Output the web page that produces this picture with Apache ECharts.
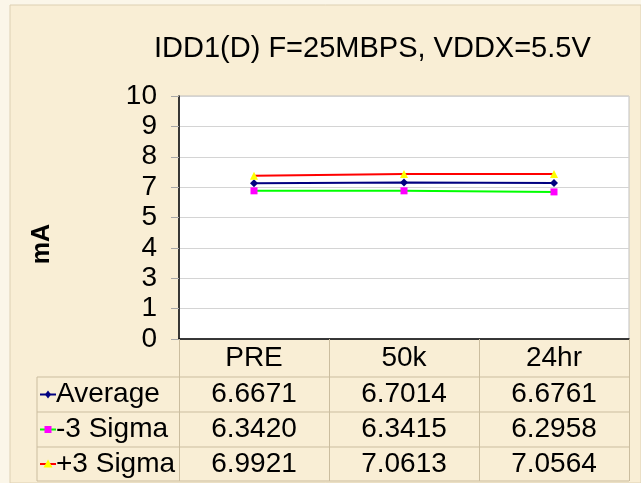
<!DOCTYPE html>
<html>
<head>
<meta charset="utf-8">
<script src="https://cdn.jsdelivr.net/npm/echarts@6/dist/echarts.min.js"></script>
<style>
  html, body { margin: 0; padding: 0; background: #fbf6e9; }
  #chart { width: 641px; height: 483px; }
</style>
</head>
<body>
<div id="chart"></div>
<script>
const categories = ['PRE', '50k', '24hr']
const seriesNames = ['Average', '-3 Sigma', '+3 Sigma']
const averageValues = [6.6671, 6.7014, 6.6761]
const minusSigmaValues = [6.342, 6.3415, 6.2958]
const plusSigmaValues = [6.9921, 7.0613, 7.0564]
// excel picked 0..10.4 with 1.3 steps, labels shown rounded
const yMin = 0
const yMax = 10.4
const yStep = 1.3

const font = 'Liberation Sans, Arial, sans-serif'
const tableLine = '#cbbd9f'

const chart = echarts.init(document.getElementById('chart'))

const option = {
  backgroundColor: '#fbf6e9',
  animation: false,
  title: {
    text: 'IDD1(D) F=25MBPS, VDDX=5.5V',
    left: 149,
    top: 29,
    textStyle: { fontFamily: font, fontSize: 29, fontWeight: 'normal', color: '#000' }
  },
  grid: {
    left: 179,
    right: 12,
    top: 96,
    bottom: 144,
    show: true,
    backgroundColor: '#fff',
    borderColor: '#c0c0c0',
    borderWidth: 1
  },
  xAxis: {
    type: 'category',
    data: categories,
    boundaryGap: true,
    axisLine: { lineStyle: { color: '#000', width: 1.5 } },
    axisTick: { show: true, interval: 0, length: 142, lineStyle: { color: tableLine } },
    axisLabel: { interval: 0, margin: 5, fontFamily: font, fontSize: 28, color: '#000' }
  },
  yAxis: {
    type: 'value',
    min: yMin,
    max: yMax,
    interval: yStep,
    axisLine: { show: true, lineStyle: { color: '#000', width: 1.5 } },
    axisTick: { show: true, length: 8, lineStyle: { color: '#a8a8a8' } },
    axisLabel: {
      margin: 22,
      fontFamily: font,
      fontSize: 28,
      color: '#000',
      formatter: (v) => String(Math.round(v))
    },
    splitLine: { lineStyle: { color: '#d4d4d4' } }
  },
  series: [
    {
      name: seriesNames[0],
      type: 'line',
      data: averageValues,
      symbol: 'diamond',
      symbolSize: 8,
      itemStyle: { color: '#000080' },
      lineStyle: { color: '#000080', width: 2 }
    },
    {
      name: seriesNames[1],
      type: 'line',
      data: minusSigmaValues,
      symbol: 'rect',
      symbolSize: 7,
      itemStyle: { color: '#ff00ff' },
      lineStyle: { color: '#00ff00', width: 2 }
    },
    {
      name: seriesNames[2],
      type: 'line',
      data: plusSigmaValues,
      symbol: 'triangle',
      symbolSize: 8,
      itemStyle: { color: '#ffff00' },
      lineStyle: { color: '#ff0000', width: 2 }
    }
  ]
}

chart.setOption(option)

// data table under the plot
const rowValues = [averageValues, minusSigmaValues, plusSigmaValues]
const keyColors = [
  { line: '#000080', mark: '#000080', shape: 'diamond' },
  { line: '#00ff00', mark: '#ff00ff', shape: 'rect' },
  { line: '#ff0000', mark: '#ffff00', shape: 'triangle' }
]
const rowLines = [377, 412, 447, 481]
const tableLeft = 37
const tableRight = 629

const graphics = [
  {
    type: 'rect',
    z: -10,
    shape: { x: 10, y: 5, width: 631, height: 478 },
    style: { fill: '#f9eed5', stroke: '#ddd0b3', lineWidth: 1 }
  },
  {
    type: 'text',
    x: 42,
    y: 244,
    rotation: Math.PI / 2,
    style: { text: 'mA', font: 'bold 25px ' + font, fill: '#000', textAlign: 'center', textVerticalAlign: 'middle' }
  }
]

rowLines.forEach((y) => {
  graphics.push({
    type: 'line',
    shape: { x1: tableLeft, y1: y, x2: tableRight, y2: y },
    style: { stroke: tableLine, lineWidth: 1 }
  })
})
graphics.push({
  type: 'line',
  shape: { x1: tableLeft, y1: rowLines[0], x2: tableLeft, y2: rowLines[3] },
  style: { stroke: tableLine, lineWidth: 1 }
})

const markShape = (shape, cx, cy, color) => {
  if (shape === 'rect') {
    return { type: 'rect', shape: { x: cx - 3.5, y: cy - 3.5, width: 7, height: 7 }, style: { fill: color } }
  }
  if (shape === 'triangle') {
    return { type: 'polygon', shape: { points: [[cx, cy - 4.5], [cx + 4.5, cy + 3.5], [cx - 4.5, cy + 3.5]] }, style: { fill: color } }
  }
  return { type: 'polygon', shape: { points: [[cx, cy - 4], [cx + 3, cy], [cx, cy + 4], [cx - 3, cy]] }, style: { fill: color } }
}

seriesNames.forEach((name, r) => {
  const cy = (rowLines[r] + rowLines[r + 1]) / 2
  graphics.push({
    type: 'line',
    shape: { x1: 40, y1: cy, x2: 56, y2: cy },
    style: { stroke: keyColors[r].line, lineWidth: 2 }
  })
  graphics.push(markShape(keyColors[r].shape, 48, cy, keyColors[r].mark))
  graphics.push({
    type: 'text',
    x: 56,
    y: cy,
    style: { text: name, font: '28px ' + font, fill: '#000', textAlign: 'left', textVerticalAlign: 'middle' }
  })
  categories.forEach((c, i) => {
    const cx = chart.convertToPixel({ xAxisIndex: 0 }, i)
    graphics.push({
      type: 'text',
      x: cx,
      y: cy,
      style: { text: rowValues[r][i].toFixed(4), font: '28px ' + font, fill: '#000', textAlign: 'center', textVerticalAlign: 'middle' }
    })
  })
})

chart.setOption({ graphic: graphics })
</script>
</body>
</html>
